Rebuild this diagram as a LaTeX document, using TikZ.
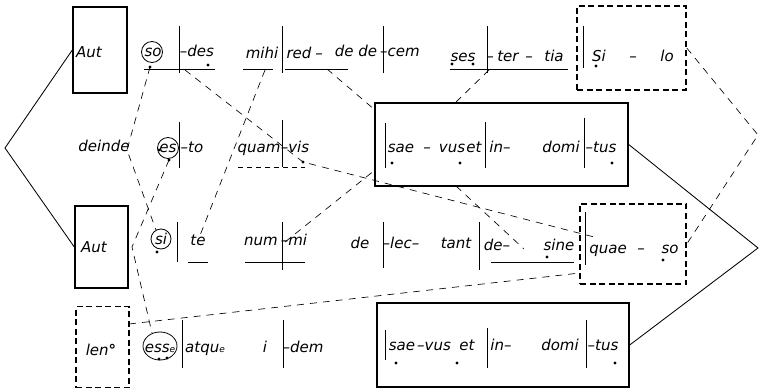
\documentclass[tikz,border=0pt]{standalone}
\usepackage{fontspec}
\setmainfont{DejaVu Sans}
\usetikzlibrary{shapes.geometric}
\tikzset{
  wd/.style={font=\fontsize{15}{17}\selectfont\itshape, inner sep=0pt, anchor=base},
  ring/.style={line width=0.8pt},
  sbox/.style={draw, line width=1.4pt, inner sep=0pt},
  dbox/.style={draw, line width=1.5pt, dash pattern=on 6pt off 3.5pt, inner sep=0pt},
  conn/.style={line width=0.65pt, dash pattern=on 7pt off 6pt},
  shortdash/.style={line width=0.65pt, dash pattern=on 5pt off 4pt},
  bar/.style={line width=0.85pt},
  uline/.style={line width=0.75pt},
  solidconn/.style={line width=0.85pt},
}
\begin{document}
\begin{tikzpicture}[x=1pt,y=-1pt]
\useasboundingbox (0,0) rectangle (760,390);
% ---------- boxes
\node[sbox, minimum width=54pt, minimum height=86pt] (autbox1) at (100,50) {};
\node[sbox, minimum width=53pt, minimum height=82pt] (autbox2) at (101.5,247) {};
\node[dbox, minimum width=53pt, minimum height=81pt] (lenbox) at (102.5,347) {};
\node[sbox, minimum width=253pt, minimum height=83pt] (big1) at (501.5,144.5) {};
\node[sbox, minimum width=252pt, minimum height=84pt] (big2) at (503,345) {};
\node[dbox, minimum width=109pt, minimum height=84pt] (silo) at (631.5,48) {};
\node[dbox, minimum width=106pt, minimum height=80pt] (quaebox) at (633,244) {};
% ---------- row 1
\node[wd] (aut1) at (89,58) {Aut};
\node[wd] (so1) at (153,57) {so};
\node[wd] (des) at (197,57) {–des};
\node[wd] (mihi) at (262,59) {mihi};
\node[wd] (red) at (299,59) {red};
\node[wd] (redd) at (319,59) {–};
\node[wd] (dede) at (356,57) {de de};
\node[wd] (cem) at (400,57) {–cem};
\node[wd] (ses) at (463,62) {ses};
\node[wd] (sesd) at (490,62) {–};
\node[wd] (ter) at (508,62) {ter};
\node[wd] (terd) at (529,62) {–};
\node[wd] (tia) at (554,62) {tia};
\node[wd] (si1) at (599,62) {Si};
\node[wd] (silodash) at (633,62) {–};
\node[wd] (lo) at (667,62) {lo};
% ---------- row 2
\node[wd] (deinde) at (104,152) {deinde};
\node[wd] (es) at (168,153) {es};
\node[wd] (to) at (192,153) {–to};
\node[wd] (quam) at (259,153) {quam};
\node[wd] (vis) at (295,153) {–vis};
\node[wd] (saeA) at (401,153) {sae};
\node[wd] (dashA) at (427,153) {–};
\node[wd] (vusA) at (452,153) {vus};
\node[wd] (etA) at (474,153) {et};
\node[wd] (inA) at (500,153) {in–};
\node[wd] (domiA) at (561,153) {domi};
\node[wd] (tusA) at (601,153) {–tus};
% ---------- row 3
\node[wd] (aut2) at (94,252) {Aut};
\node[wd] (si) at (161,244) {si};
\node[wd] (te) at (198,245) {te};
\node[wd] (num) at (261,245) {num};
\node[wd] (mi) at (294,245) {–mi};
\node[wd] (de1) at (360,248) {de};
\node[wd] (lec) at (401,248) {–lec–};
\node[wd] (tant) at (456,248) {tant};
\node[wd] (de2) at (497,250) {de–};
\node[wd] (sine) at (559,250) {sine};
\node[wd] (quae) at (608,253) {quae};
\node[wd] (quaedash) at (641,253) {–};
\node[wd] (so2) at (670,253) {so};
% ---------- row 4
\node[wd] (len) at (101,355) {len\textbf{°}};
\node[wd] (esse) at (160,352) {ess{\small e}};
\node[wd] (atque) at (205,352) {atqu{\small e}};
\node[wd] (i) at (265,352) {i};
\node[wd] (dem) at (303,352) {–dem};
\node[wd] (saeB) at (402,350) {sae};
\node[wd] (vusB) at (434,350) {–vus};
\node[wd] (etB) at (467,350) {et};
\node[wd] (inB) at (501,350) {in–};
\node[wd] (domiB) at (560,350) {domi};
\node[wd] (tusB) at (603,350) {–tus};
% ---------- rings round syllables
\draw[ring] (152,52) circle (10.5);
\draw[ring] (168,148) circle (10.5);
\draw[ring] (161,239) circle (10);
\draw[ring] (160,346) ellipse [x radius=17, y radius=14];
% ---------- vertical bars
\foreach \x/\a/\b in {179/26/73, 282/26/73, 383/26/73, 487/26/73, 583/26/68,
                      179/122/168, 282/120/167, 385/123/168, 485/122/168, 584/118/168,
                      177/222/262, 282/222/270, 383/222/268, 479/222/270, 585/212/265,
                      182/320/368, 283/320/368, 385/330/360, 487/328/368, 586/320/368}
  \draw[bar] (\x,\a) -- (\x,\b);
% ---------- underlines
\foreach \a/\b/\y in {144/215/69, 243/273/69, 285/348/69, 450/568/69,
                      188/208/262, 245/305/262, 491/574/262}
  \draw[uline] (\a,\y) -- (\b,\y);
\coordinate (qvL) at (238,167);
\coordinate (qvR) at (305,167);
\draw[shortdash] (qvL) -- (qvR);
% ---------- dots
\foreach \p in {(150,67),(208,65),(452,64),(473,64),(596,66),
                (159,150),(169,160),(303,162),(392,163),(460,163),(612,163),
                (157,252),(547,257),(663,260),
                (159,359),(167,358),(396,363),(457,363),(615,363)}
  \fill \p circle (1.7pt);
% ---------- connector points
\coordinate (soDot) at (150,67);
\coordinate (deindeV) at (127,150);
\coordinate (siTop) at (156,230);
\coordinate (esDot) at (169,160);
\coordinate (autV) at (132,247);
\coordinate (esseTop) at (152,333);
\coordinate (desA) at (185,70);
\coordinate (visDot) at (303,162);
\coordinate (quaeA) at (598,238);
\coordinate (mihiA) at (265,70);
\coordinate (teA) at (199,238);
\coordinate (redA) at (327,69);
\coordinate (big1L) at (375,110);
\coordinate (sesA) at (489,70);
\coordinate (big1T) at (455,103);
\coordinate (numA) at (285,242);
\coordinate (big1LL) at (375,170);
\coordinate (big1B) at (456,186);
\coordinate (sineA) at (524,249);
\coordinate (lenA) at (129,324);
\coordinate (quaeL) at (580,273);
\coordinate (rvD) at (758,135);
\coordinate (rvS) at (758,248);
\coordinate (lv) at (5,148);
% ---------- dashed connectors
\draw[conn] (soDot) -- (deindeV) -- (siTop);
\draw[conn] (esDot) -- (autV) -- (esseTop);
\draw[conn] (desA) -- (visDot) -- (quaeA);
\draw[conn] (mihiA) -- (teA);
\draw[conn] (redA) -- (big1L);
\draw[conn] (sesA) -- (big1T);
\draw[conn] (numA) -- (big1LL);
\draw[conn] (big1B) -- (sineA);
\draw[conn] (lenA) -- (quaeL);
\draw[conn] (silo.east) -- (rvD) -- (quaebox.east);
% ---------- solid brackets
\draw[solidconn] (autbox1.west) -- (lv) -- (autbox2.west);
\draw[solidconn] (big1.east) -- (rvS) -- (big2.east);
\end{tikzpicture}
\end{document}
